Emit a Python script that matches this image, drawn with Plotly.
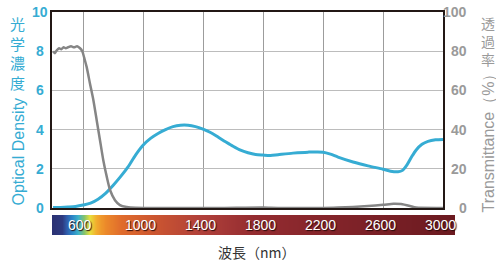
import numpy as np
import plotly.graph_objects as go

# ---- data ----
od_nm = [400, 450, 500, 550, 600, 650, 700, 750, 800, 850, 900, 950, 1000, 1050, 1100,
         1150, 1200, 1250, 1300, 1350, 1400, 1450, 1500, 1550, 1600, 1650, 1700, 1750,
         1800, 1850, 1900, 2000, 2100, 2200, 2250, 2300, 2400, 2500, 2600, 2650, 2700,
         2730, 2760, 2790, 2820, 2860, 2900, 2950, 3000]
od_val = [0.02, 0.03, 0.05, 0.08, 0.15, 0.25, 0.45, 0.75, 1.15, 1.6, 2.1, 2.7, 3.2, 3.55, 3.8,
          4.0, 4.15, 4.22, 4.22, 4.15, 4.02, 3.85, 3.62, 3.38, 3.15, 2.95, 2.82, 2.73,
          2.7, 2.68, 2.72, 2.8, 2.85, 2.85, 2.75, 2.6, 2.35, 2.15, 1.98, 1.88, 1.85,
          1.92, 2.2, 2.6, 2.95, 3.25, 3.4, 3.48, 3.5]

tr_nm = [400, 412, 425, 440, 455, 470, 485, 500, 520, 540, 560, 580, 595, 610, 624, 646,
         669, 691, 713, 735, 758, 780, 813, 846, 891, 950, 1200, 1500, 1800, 1850, 1900,
         2200, 2300, 2400, 2500, 2600, 2670, 2720, 2780, 2820, 3000]
tr_val = [80, 79, 80.5, 81.5, 81, 82, 81.5, 82, 82.5, 82, 82.5, 81.5, 80, 76, 72, 63.5,
          55, 44.8, 34.6, 24.4, 16, 9.2, 4, 1.5, 0.5, 0.1, 0, 0, 0.3, 0.1, 0,
          0, 0.2, 0.5, 1.0, 1.6, 2.2, 2.0, 1.0, 0.2, 0]

od_ticks = [0, 2, 4, 6, 8, 10]
tr_ticks = [0, 20, 40, 60, 80, 100]
wl_ticks = [600, 1000, 1400, 1800, 2200, 2600, 3000]
grid_x = [600, 1000, 1400, 1800, 2200, 2600]

spectrum_stops = [
    [0.0, "#2b3273"], [0.025, "#2d3a80"], [0.035, "#2f5aa8"], [0.05, "#2b86c8"],
    [0.065, "#3db2c8"], [0.08, "#86c46a"], [0.094, "#e6df3c"], [0.11, "#f2ad2e"],
    [0.13, "#ec8a2a"], [0.17, "#e06c2c"], [0.25, "#cc5630"], [0.37, "#b0403a"],
    [0.5, "#942c30"], [0.75, "#7e2228"], [1.0, "#6b1a20"],
]

CYAN = "#36acd3"
GRAY_LINE = "#858585"
GRAY_TXT = "#9a9a9a"
FONT = "Liberation Sans, Arial, sans-serif"
CJK = "Noto Sans CJK JP, sans-serif"

# ---- figure geometry (pixels) ----
W, H = 496, 264
L, R, T, B = 52, 41, 12, 28
PW, PH = W - L - R, H - T - B


def px_x(p):
    return (p - L) / PW


def px_y(p):
    return (H - B - p) / PH


fig = go.Figure()

fig.add_trace(go.Scatter(x=tr_nm, y=tr_val, yaxis="y2", mode="lines",
                         line=dict(color=GRAY_LINE, width=2.5, shape="spline", smoothing=0.6),
                         hoverinfo="skip", showlegend=False))
fig.add_trace(go.Scatter(x=od_nm, y=od_val, mode="lines",
                         line=dict(color=CYAN, width=3, shape="spline", smoothing=0.8),
                         hoverinfo="skip", showlegend=False))

N = 400
fig.add_trace(go.Heatmap(z=[list(range(N))], x=np.linspace(0, 1, N), y=[0],
                         xaxis="x2", yaxis="y3", colorscale=spectrum_stops,
                         showscale=False, zsmooth="best", hoverinfo="skip"))

main_top = px_y(12)
main_bot = px_y(208)
xmain_right = px_x(443)

fig.update_layout(
    width=W, height=H, margin=dict(l=L, r=R, t=T, b=B, autoexpand=False),
    paper_bgcolor="white", plot_bgcolor="white",
    xaxis=dict(domain=[0, xmain_right], range=[393, 3000], tickvals=grid_x,
               showticklabels=False, ticks="", showgrid=True, gridcolor="#9c9c9c",
               gridwidth=1, showline=True, mirror=True, linecolor="#231815",
               linewidth=2, zeroline=False, anchor="y"),
    yaxis=dict(domain=[main_bot, main_top], range=[0, 10], tickvals=[2, 4, 6, 8],
               showticklabels=False, ticks="", showgrid=True, gridcolor="#bcbcbc",
               gridwidth=1, showline=True, mirror=True, linecolor="#231815",
               linewidth=2, zeroline=False, anchor="x"),
    yaxis2=dict(overlaying="y", side="right", range=[0, 100], showticklabels=False,
                showgrid=False, zeroline=False, ticks="", anchor="x"),
    xaxis2=dict(domain=[0, 1], range=[0, 1], visible=False, anchor="y3"),
    yaxis3=dict(domain=[px_y(235), px_y(215)], range=[-0.5, 0.5], visible=False,
                anchor="x2"),
)

ann = []
for v in od_ticks:
    ann.append(dict(x=px_x(40), xref="paper", y=v, yref="y", text=str(v),
                    showarrow=False, xanchor="center", yanchor="middle",
                    font=dict(family=FONT, size=14, color=CYAN, weight="bold")))
for v in tr_ticks:
    ann.append(dict(x=px_x(469), xref="paper", y=v, yref="y2", text=str(v),
                    showarrow=False, xanchor="right", yanchor="middle",
                    font=dict(family=FONT, size=14, color=GRAY_TXT, weight="bold")))
for v in wl_ticks:
    ann.append(dict(x=v, xref="x", y=px_y(225), yref="paper", text=str(v),
                    showarrow=False, xanchor="center", yanchor="middle", xshift=-3,
                    font=dict(family=FONT, size=14, color="white",
                              shadow="1px 1px 1px #2a0a0a")))

ann.append(dict(x=px_x(17.5), xref="paper", y=px_y(11), yref="paper",
                text="光<br>学<br>濃<br>度", showarrow=False, xanchor="center",
                yanchor="top", font=dict(family=CJK, size=15, color=CYAN)))
ann.append(dict(x=px_x(17.5), xref="paper", y=px_y(152), yref="paper",
                text="Optical Density", textangle=-90, showarrow=False,
                xanchor="center", yanchor="middle",
                font=dict(family=FONT, size=16, color=CYAN)))
ann.append(dict(x=px_x(488), xref="paper", y=px_y(11), yref="paper",
                text="透<br>過<br>率", showarrow=False, xanchor="center",
                yanchor="top", font=dict(family=CJK, size=14, color=GRAY_TXT)))
ann.append(dict(x=px_x(488), xref="paper", y=px_y(139.5), yref="paper",
                text="Transmittance（%）", textangle=-90, showarrow=False,
                xanchor="center", yanchor="middle",
                font=dict(family=FONT, size=16, color=GRAY_TXT)))
ann.append(dict(x=px_x(257), xref="paper", y=px_y(252), yref="paper",
                text="波長（nm）", showarrow=False, xanchor="center", yanchor="middle",
                font=dict(family=CJK, size=14, color="#333333")))

fig.update_layout(annotations=ann)

fig.write_html("out.html", config={"displayModeBar": False},
               post_script="document.body.style.margin='0';document.body.style.overflow='hidden';")
